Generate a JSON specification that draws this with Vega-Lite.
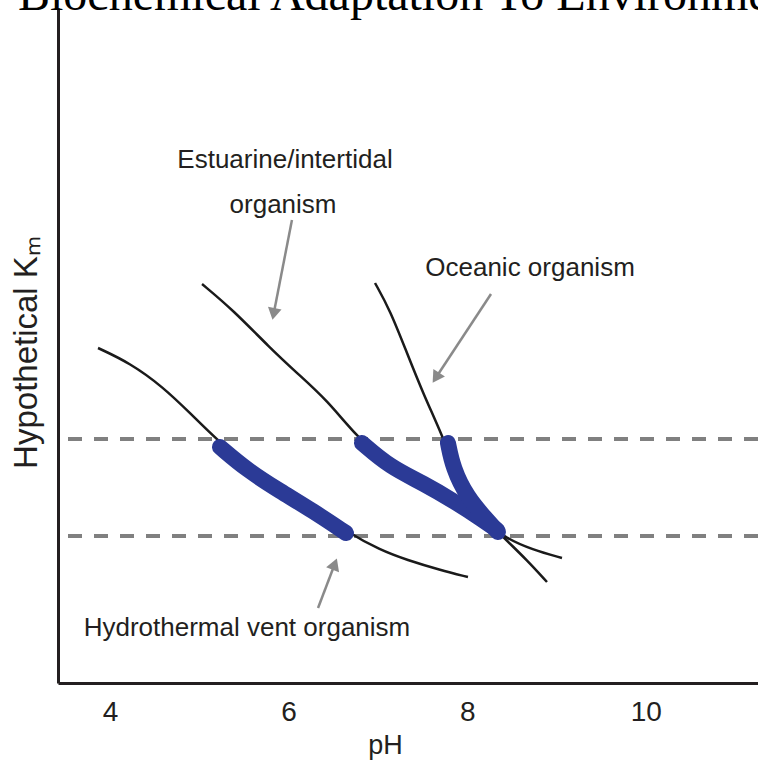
{
  "$schema": "https://vega.github.io/schema/vega-lite/v6.json",
  "width": 700,
  "height": 675,
  "autosize": {"type": "none"},
  "padding": {"left": 58, "top": 8, "right": 0, "bottom": 79},
  "background": "white",
  "config": {
    "view": {"stroke": null},
    "axis": {"grid": false}
  },
  "datasets": {
    "heading": [
      {"text": "Biochemical Adaptation To Environment", "pH": 2.969, "km": 9.97}
    ],
    "curves": [
      {"series": "Hydrothermal", "pH": 3.865, "km": 4.963},
      {"series": "Hydrothermal", "pH": 4.223, "km": 4.741},
      {"series": "Hydrothermal", "pH": 4.593, "km": 4.385},
      {"series": "Hydrothermal", "pH": 4.895, "km": 4.0},
      {"series": "Hydrothermal", "pH": 5.198, "km": 3.6},
      {"series": "Hydrothermal", "pH": 5.533, "km": 3.23},
      {"series": "Hydrothermal", "pH": 5.903, "km": 2.904},
      {"series": "Hydrothermal", "pH": 6.273, "km": 2.593},
      {"series": "Hydrothermal", "pH": 6.653, "km": 2.237},
      {"series": "Hydrothermal", "pH": 7.023, "km": 1.97},
      {"series": "Hydrothermal", "pH": 7.325, "km": 1.822},
      {"series": "Hydrothermal", "pH": 7.695, "km": 1.674},
      {"series": "Hydrothermal", "pH": 8.008, "km": 1.57},
      {"series": "Estuarine", "pH": 5.03, "km": 5.911},
      {"series": "Estuarine", "pH": 5.377, "km": 5.526},
      {"series": "Estuarine", "pH": 5.791, "km": 4.963},
      {"series": "Estuarine", "pH": 6.093, "km": 4.593},
      {"series": "Estuarine", "pH": 6.429, "km": 4.193},
      {"series": "Estuarine", "pH": 6.765, "km": 3.644},
      {"series": "Estuarine", "pH": 7.135, "km": 3.215},
      {"series": "Estuarine", "pH": 7.504, "km": 2.948},
      {"series": "Estuarine", "pH": 7.885, "km": 2.667},
      {"series": "Estuarine", "pH": 8.176, "km": 2.43},
      {"series": "Estuarine", "pH": 8.4, "km": 2.163},
      {"series": "Estuarine", "pH": 8.736, "km": 1.97},
      {"series": "Estuarine", "pH": 9.061, "km": 1.852},
      {"series": "Oceanic", "pH": 6.967, "km": 5.926},
      {"series": "Oceanic", "pH": 7.135, "km": 5.526},
      {"series": "Oceanic", "pH": 7.325, "km": 4.889},
      {"series": "Oceanic", "pH": 7.504, "km": 4.296},
      {"series": "Oceanic", "pH": 7.728, "km": 3.644},
      {"series": "Oceanic", "pH": 7.84, "km": 3.23},
      {"series": "Oceanic", "pH": 7.997, "km": 2.756},
      {"series": "Oceanic", "pH": 8.221, "km": 2.415},
      {"series": "Oceanic", "pH": 8.4, "km": 2.163},
      {"series": "Oceanic", "pH": 8.669, "km": 1.822},
      {"series": "Oceanic", "pH": 8.893, "km": 1.496}
    ],
    "highlights": [
      {"series": "Hydrothermal", "pH": 5.231, "km": 3.496},
      {"series": "Hydrothermal", "pH": 5.533, "km": 3.156},
      {"series": "Hydrothermal", "pH": 5.903, "km": 2.844},
      {"series": "Hydrothermal", "pH": 6.273, "km": 2.548},
      {"series": "Hydrothermal", "pH": 6.642, "km": 2.222},
      {"series": "Estuarine", "pH": 6.821, "km": 3.556},
      {"series": "Estuarine", "pH": 7.135, "km": 3.2},
      {"series": "Estuarine", "pH": 7.504, "km": 2.963},
      {"series": "Estuarine", "pH": 7.885, "km": 2.667},
      {"series": "Estuarine", "pH": 8.176, "km": 2.415},
      {"series": "Estuarine", "pH": 8.333, "km": 2.267},
      {"series": "Oceanic", "pH": 7.784, "km": 3.556},
      {"series": "Oceanic", "pH": 7.84, "km": 3.185},
      {"series": "Oceanic", "pH": 7.997, "km": 2.756},
      {"series": "Oceanic", "pH": 8.221, "km": 2.415},
      {"series": "Oceanic", "pH": 8.344, "km": 2.237}
    ],
    "levels": [
      {"km": 3.615},
      {"km": 2.178}
    ],
    "arrows": [
      {"label": "Estuarine", "x": 6.037, "y": 6.859, "x2": 5.836, "y2": 5.496, "angle": 191},
      {"label": "Oceanic", "x": 8.266, "y": 5.763, "x2": 7.661, "y2": 4.548, "angle": 213},
      {"label": "Hydrothermal", "x": 6.329, "y": 1.111, "x2": 6.508, "y2": 1.733, "angle": 21}
    ],
    "labels": [
      {"text": "Estuarine/intertidal", "pH": 5.959, "km": 7.748},
      {"text": "organism", "pH": 5.937, "km": 7.081},
      {"text": "Oceanic organism", "pH": 8.703, "km": 6.148},
      {"text": "Hydrothermal vent organism", "pH": 5.533, "km": 0.815}
    ]
  },
  "layer": [
    {
      "data": {"name": "levels"},
      "mark": {"type": "rule", "color": "#808080", "strokeWidth": 4, "strokeDash": [14, 12]},
      "encoding": {
        "y": {"field": "km", "type": "quantitative", "scale": {"domain": [0, 10], "nice": false, "zero": false},
          "axis": {"title": "Hypothetical Kₘ", "labels": false, "ticks": false, "domainColor": "#231f20", "domainWidth": 3,
            "titleFont": "Liberation Sans", "titleFontSize": 33, "titleFontWeight": "normal", "titleColor": "#231f20",
            "titleX": -32, "titleY": 344, "titleAngle": 270, "titleBaseline": "middle", "titleAlign": "center"}}
      }
    },
    {
      "data": {"name": "curves"},
      "mark": {"type": "line", "color": "#1a1a1a", "strokeWidth": 2.5, "interpolate": "basis"},
      "encoding": {
        "x": {"field": "pH", "type": "quantitative", "scale": {"domain": [3.417, 11.256], "nice": false, "zero": false},
          "axis": {"title": "pH", "values": [4, 6, 8, 10], "format": "d", "ticks": false, "domainColor": "#231f20", "domainWidth": 3,
            "labelFont": "Liberation Sans", "labelFontSize": 28, "labelColor": "#231f20", "labelPadding": 15,
            "titleFont": "Liberation Sans", "titleFontSize": 27, "titleFontWeight": "normal", "titleColor": "#231f20",
            "titleX": 327, "titleY": 62, "titleBaseline": "middle"}},
        "y": {"field": "km", "type": "quantitative", "scale": {"domain": [0, 10], "nice": false, "zero": false}},
        "detail": {"field": "series"}
      }
    },
    {
      "data": {"name": "highlights"},
      "mark": {"type": "line", "color": "#2B3A96", "strokeWidth": 16, "strokeCap": "round", "strokeJoin": "round", "interpolate": "basis"},
      "encoding": {
        "x": {"field": "pH", "type": "quantitative", "scale": {"domain": [3.417, 11.256], "nice": false, "zero": false}},
        "y": {"field": "km", "type": "quantitative", "scale": {"domain": [0, 10], "nice": false, "zero": false}},
        "detail": {"field": "series"}
      }
    },
    {
      "data": {"name": "arrows"},
      "mark": {"type": "rule", "color": "#8a8a8a", "strokeWidth": 2.5},
      "encoding": {
        "x": {"field": "x", "type": "quantitative", "scale": {"domain": [3.417, 11.256], "nice": false, "zero": false}},
        "y": {"field": "y", "type": "quantitative", "scale": {"domain": [0, 10], "nice": false, "zero": false}},
        "x2": {"field": "x2"},
        "y2": {"field": "y2"}
      }
    },
    {
      "data": {"name": "arrows"},
      "mark": {"type": "point", "shape": "triangle", "filled": true, "color": "#8a8a8a", "size": 190, "opacity": 1},
      "encoding": {
        "x": {"field": "x2", "type": "quantitative", "scale": {"domain": [3.417, 11.256], "nice": false, "zero": false}},
        "y": {"field": "y2", "type": "quantitative", "scale": {"domain": [0, 10], "nice": false, "zero": false}},
        "angle": {"field": "angle", "type": "quantitative", "scale": null}
      }
    },
    {
      "data": {"name": "labels"},
      "mark": {"type": "text", "font": "Liberation Sans", "fontSize": 26, "color": "#231f20", "align": "center", "baseline": "middle"},
      "encoding": {
        "x": {"field": "pH", "type": "quantitative", "scale": {"domain": [3.417, 11.256], "nice": false, "zero": false}},
        "y": {"field": "km", "type": "quantitative", "scale": {"domain": [0, 10], "nice": false, "zero": false}},
        "text": {"field": "text"}
      }
    },
    {
      "data": {"name": "heading"},
      "mark": {"type": "text", "font": "Liberation Serif", "fontSize": 48, "color": "#000000", "align": "left", "baseline": "alphabetic"},
      "encoding": {
        "x": {"field": "pH", "type": "quantitative", "scale": {"domain": [3.417, 11.256], "nice": false, "zero": false}},
        "y": {"field": "km", "type": "quantitative", "scale": {"domain": [0, 10], "nice": false, "zero": false}},
        "text": {"field": "text"}
      }
    }
  ]
}
